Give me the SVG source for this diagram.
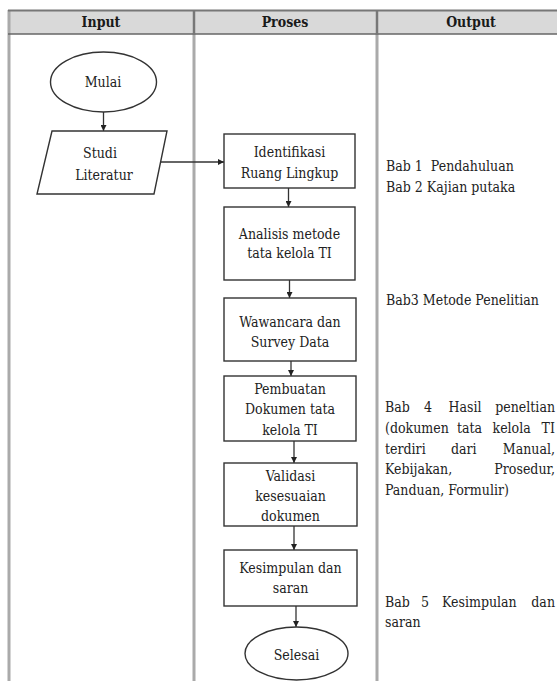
<svg xmlns="http://www.w3.org/2000/svg" width="557" height="681" viewBox="0 0 557 681">
<defs>
<style>
text{font-family:"DejaVu Serif Condensed","DejaVu Serif",serif;font-stretch:condensed;font-size:14px;fill:#222}
.h{font-weight:bold;font-size:14px;fill:#1a1a1a;text-anchor:middle}
.c{text-anchor:middle}
.e{text-anchor:end}
.shape{fill:#fff;stroke:#333;stroke-width:1.4}
.conn{stroke:#333;stroke-width:1.3;fill:none}
.grid{stroke:#aaa;stroke-width:3;fill:none}
</style>
<marker id="ah" markerWidth="7" markerHeight="6" refX="6" refY="3" orient="auto" markerUnits="userSpaceOnUse">
<path d="M0,0 L6,3 L0,6 Z" fill="#222"/>
</marker>
</defs>
<rect width="557" height="681" fill="#fff"/>
<g id="table">
<rect x="8" y="10" width="549" height="24" fill="#d9d9d9"/>
<line class="grid" x1="9" y1="10" x2="9" y2="681"/>
<line class="grid" x1="194" y1="10" x2="194" y2="681"/>
<line class="grid" x1="377" y1="10" x2="377" y2="681"/>
<line x1="8" y1="10.5" x2="557" y2="10.5" stroke="#777" stroke-width="2"/>
<line x1="8" y1="34" x2="557" y2="34" stroke="#666" stroke-width="1.5"/>
<line x1="194" y1="10" x2="194" y2="34" stroke="#777" stroke-width="2"/>
<line x1="377" y1="10" x2="377" y2="34" stroke="#777" stroke-width="2"/>
<text class="h" x="101" y="27">Input</text>
<text class="h" x="285" y="27">Proses</text>
<text class="h" x="471" y="27">Output</text>
</g>
<g id="connectors">
<line class="conn" x1="103.5" y1="112" x2="103.5" y2="131" marker-end="url(#ah)"/>
<line class="conn" x1="161" y1="162" x2="224" y2="162" marker-end="url(#ah)"/>
<line class="conn" x1="288.5" y1="188" x2="288.5" y2="207" marker-end="url(#ah)"/>
<line class="conn" x1="289.5" y1="280" x2="289.5" y2="298" marker-end="url(#ah)"/>
<line class="conn" x1="291" y1="361" x2="291" y2="376" marker-end="url(#ah)"/>
<line class="conn" x1="294" y1="441" x2="294" y2="463" marker-end="url(#ah)"/>
<line class="conn" x1="294" y1="526" x2="294" y2="550" marker-end="url(#ah)"/>
<line class="conn" x1="296" y1="606" x2="296" y2="627" marker-end="url(#ah)"/>
</g>
<g id="mulai">
<ellipse class="shape" cx="103.5" cy="82" rx="53" ry="30"/>
<text class="c" x="103" y="87">Mulai</text>
</g>
<g id="studi-literatur">
<polygon class="shape" points="52,131 167,131 154,194 37,194"/>
<text class="c" x="100" y="158">Studi</text>
<text class="c" x="104" y="180">Literatur</text>
</g>
<g id="identifikasi">
<rect class="shape" x="224" y="134" width="131" height="54"/>
<text class="c" x="289.5" y="157">Identifikasi</text>
<text class="c" x="289.5" y="178">Ruang Lingkup</text>
</g>
<g id="analisis">
<rect class="shape" x="224" y="207" width="131" height="73"/>
<text class="c" x="289.5" y="239">Analisis metode</text>
<text class="c" x="289.5" y="258">tata kelola TI</text>
</g>
<g id="wawancara">
<rect class="shape" x="224" y="298" width="132" height="63"/>
<text class="c" x="290" y="327">Wawancara dan</text>
<text class="c" x="290" y="347">Survey Data</text>
</g>
<g id="pembuatan">
<rect class="shape" x="224" y="376" width="132" height="65"/>
<text class="c" x="290" y="394">Pembuatan</text>
<text class="c" x="290" y="414">Dokumen tata</text>
<text class="c" x="290" y="435">kelola TI</text>
</g>
<g id="validasi">
<rect class="shape" x="224" y="463" width="133" height="63"/>
<text class="c" x="290.5" y="481">Validasi</text>
<text class="c" x="290.5" y="501">kesesuaian</text>
<text class="c" x="290.5" y="521">dokumen</text>
</g>
<g id="kesimpulan">
<rect class="shape" x="224" y="550" width="133" height="56"/>
<text class="c" x="290.5" y="573">Kesimpulan dan</text>
<text class="c" x="290.5" y="593">saran</text>
</g>
<g id="selesai">
<ellipse class="shape" cx="296.5" cy="653.5" rx="51.5" ry="26.5"/>
<text class="c" x="296.5" y="660">Selesai</text>
</g>
<g id="output-texts">
<text x="386" y="171" xml:space="preserve">Bab 1  Pendahuluan</text>
<text x="386" y="192">Bab 2 Kajian putaka</text>
<text x="386" y="305">Bab3 Metode Penelitian</text>
<text y="412"><tspan x="385">Bab</tspan><tspan x="424">4</tspan><tspan x="448.5">Hasil</tspan><tspan x="555" class="e">peneltian</tspan></text>
<text y="433"><tspan x="385">(dokumen</tspan><tspan x="457">tata</tspan><tspan x="492.5">kelola</tspan><tspan x="555" class="e">TI</tspan></text>
<text y="454"><tspan x="385">terdiri</tspan><tspan x="451">dari</tspan><tspan x="555" class="e">Manual,</tspan></text>
<text y="474"><tspan x="385">Kebijakan,</tspan><tspan x="555" class="e">Prosedur,</tspan></text>
<text x="385" y="495">Panduan, Formulir)</text>
<text y="607"><tspan x="385">Bab</tspan><tspan x="421">5</tspan><tspan x="442">Kesimpulan</tspan><tspan x="555" class="e">dan</tspan></text>
<text x="385" y="627">saran</text>
</g>
</svg>
